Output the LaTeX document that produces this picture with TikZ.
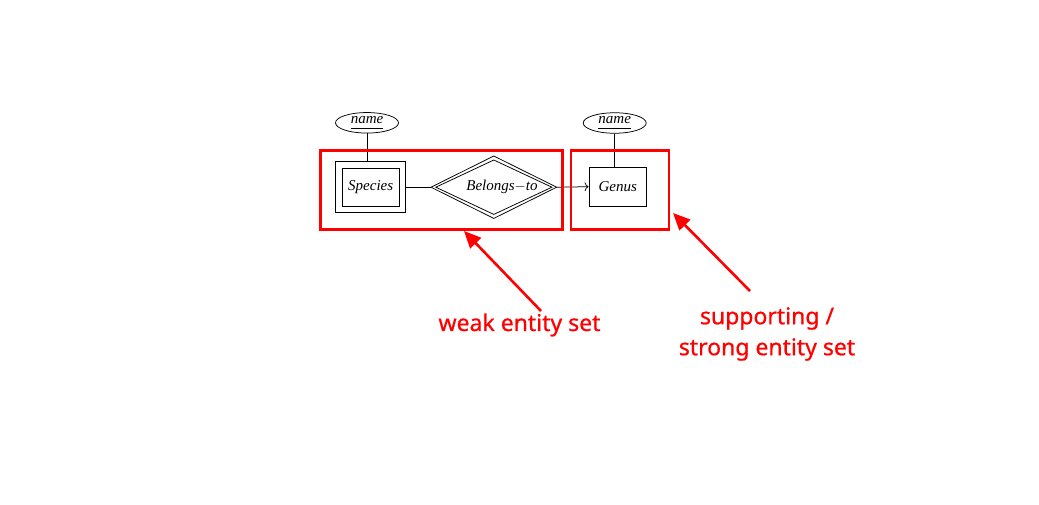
\documentclass[tikz,border=0pt]{standalone}
\usepackage{fontspec}
\setmainfont{Liberation Serif}
\newfontfamily\labelfont[FakeBold=0.7]{Noto Sans}
\usetikzlibrary{shapes.geometric,arrows.meta}
\tikzset{
  er/.style={draw=black, line width=0.75pt, font=\itshape\fontsize{15}{17}\selectfont, inner sep=0pt},
  attr/.style={er, ellipse, minimum width=63pt, minimum height=20.5pt},
  erline/.style={draw=black, line width=0.75pt},
  hl/.style={draw=red, line width=2.6pt, inner sep=0pt, minimum height=79pt},
  hlarrow/.style={draw=red, line width=2.6pt, -{Triangle[length=17pt,width=15pt]}},
  hltext/.style={text=red, font=\labelfont\fontsize{23}{31}\selectfont, align=center},
}
\newcommand{\attrname}{\raisebox{0.3pt}{\underline{name\vphantom{g}}}}
\newcommand{\lowtext}[1]{\raisebox{-2pt}{#1}}
\begin{document}
\begin{tikzpicture}[x=1pt,y=-1pt]
\useasboundingbox[fill=white] (0,0) rectangle (1039,504);
% ER diagram
\node[attr] (n1) at (367,122.8) {\attrname};
\node[er, minimum width=70pt, minimum height=51pt] (spo) at (370.7,187.2) {};
\node[er, minimum width=56.6pt, minimum height=37.7pt] (sp) at (370.7,187.2) {\lowtext{Species}};
\node[er, draw=none] (bt) at (502,187.2) {\lowtext{Belongs$-$to}};
\coordinate (btw) at (431,187.2);
\coordinate (btn) at (493.8,156);
\coordinate (bte) at (556.7,187.2);
\coordinate (bts) at (493.8,218.4);
\coordinate (biw) at (435.8,187.2);
\coordinate (bin) at (493.8,160);
\coordinate (bie) at (551.9,187.2);
\coordinate (bis) at (493.8,214.4);
\draw[erline, line join=miter] (btw) -- (btn) -- (bte) -- (bts) -- cycle;
\draw[erline, line join=miter] (biw) -- (bin) -- (bie) -- (bis) -- cycle;
\node[er, minimum width=57.7pt, minimum height=38.7pt] (ge) at (617.8,186.7) {\lowtext{Genus}};
\node[attr] (n2) at (614.7,123) {\attrname};
\draw[erline] (n1.south) -- (n1.south |- spo.north);
\draw[erline] (n2.south) -- (n2.south |- ge.north);
\draw[erline] (spo.east) -- (btw);
\draw[erline, -{To[length=4pt,width=9pt]}] (bte) -- (ge.west);
% highlight boxes
\node[hl, minimum width=242pt] (wbox) at (441.2,189.7) {};
\node[hl, minimum width=98pt] (sbox) at (620,189.7) {};
% labels
\node[hltext] (wl) at (519.5,325) {weak entity set};
\node[hltext] (sl) at (767,334) {supporting /\\strong entity set};
\coordinate (wa) at (541,311);
\coordinate (wt) at (464,231);
\coordinate (sa) at (750,291);
\coordinate (st) at (673,213);
\draw[hlarrow] (wa) -- (wt);
\draw[hlarrow] (sa) -- (st);
\end{tikzpicture}
\end{document}
